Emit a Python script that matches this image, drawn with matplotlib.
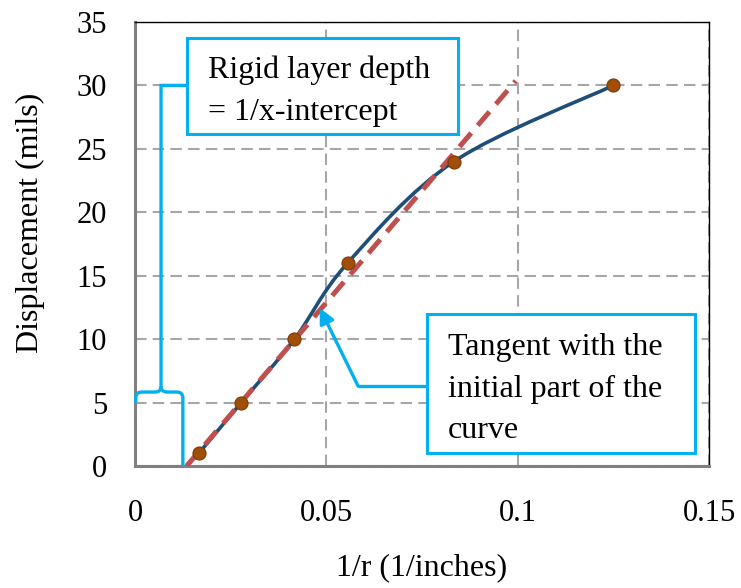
import numpy as np
import matplotlib
matplotlib.use("Agg")
import matplotlib.pyplot as plt
from matplotlib.path import Path
from matplotlib.patches import PathPatch, Rectangle

plt.rcParams['font.family'] = ['Liberation Serif', 'DejaVu Serif']

# ---- data ----
inv_r = [1/60, 1/36, 1/24, 1/18, 1/12, 1/8]
displacement = [1, 5, 10, 16, 24, 30]
tangent_x = [0.0135, 0.0995]
tangent_slope = 353.0
x_ticks = [0, 0.05, 0.1, 0.15]
x_tick_labels = ['0', '0.05', '0.1', '0.15']
y_ticks = [0, 5, 10, 15, 20, 25, 30, 35]

BLUE = '#1F4E79'
RED = '#C0504D'
MARK = '#A04E08'
CYAN = '#00B0F0'
GRID = '#A6A6A6'

fig = plt.figure(figsize=(7.41, 5.88), dpi=100)
ax = fig.add_axes([135/741, 1-466/588, (709-135)/741, (466-22)/588])
ax.set_xlim(0, 0.15)
ax.set_ylim(0, 35)

# Excel-like smoothed curve (Bezier with 1/6 tangents)
P = np.column_stack([inv_r, displacement])
n = len(P)
verts = [tuple(P[0])]
codes = [Path.MOVETO]
for i in range(n - 1):
    p0 = P[i - 1] if i > 0 else P[i]
    p1 = P[i]
    p2 = P[i + 1]
    p3 = P[i + 2] if i + 2 < n else P[i + 1]
    c1 = p1 + (p2 - p0) / 6
    c2 = p2 - (p3 - p1) / 6
    verts += [tuple(c1), tuple(c2), tuple(p2)]
    codes += [Path.CURVE4] * 3
ax.add_patch(PathPatch(Path(verts, codes), fc='none', ec=BLUE, lw=2.6, zorder=3, capstyle='round'))

# tangent
tx = np.array(tangent_x)
ty = tangent_slope * (tx - tangent_x[0])
ax.plot(tx, ty, color=RED, lw=3.6, dashes=(3.6, 2.0), zorder=4)

# points
ax.plot(inv_r, displacement, 'o', color=MARK, mec='#7A3A05', mew=0.8, ms=9.4, zorder=5, ls='none')

# grid / spines
ax.set_xticks(x_ticks)
ax.set_xticklabels(x_tick_labels)
ax.set_yticks(y_ticks)
ax.grid(True, color=GRID, ls=(0, (5.5, 3.0)), lw=1.5)
ax.set_axisbelow(True)
ax.tick_params(length=0, labelsize=22)
ax.tick_params(axis='y', pad=20)
ax.tick_params(axis='x', pad=24)
for s in ['left', 'bottom']:
    ax.spines[s].set_color('#808080')
    ax.spines[s].set_linewidth(2.2)
for s in ['top', 'right']:
    ax.spines[s].set_color('#000000')
    ax.spines[s].set_linewidth(1.0)

ax.set_xlabel('1/r (1/inches)', fontsize=23, labelpad=18)
fig.text(30/741, 1-223/588, 'Displacement (mils)', fontsize=23, rotation=90, ha='center', va='center')

# brace annotation (cyan)
xl, xc, xr = 0.0002, 0.0068, 0.0125
yb = 5.83
rx, ry = 0.0016, 0.45
bverts = [(xl, 5.0), (xl, yb - ry), (xl, yb), (xl + rx, yb), (xc - rx, yb), (xc, yb), (xc, yb + ry),
          (xc, 30.0), (0.0137, 30.0)]
bcodes = [Path.MOVETO, Path.LINETO, Path.CURVE3, Path.CURVE3, Path.LINETO, Path.CURVE3, Path.CURVE3,
          Path.LINETO, Path.LINETO]
ax.add_patch(PathPatch(Path(bverts, bcodes), fc='none', ec=CYAN, lw=2.4, zorder=6, clip_on=False))
bverts2 = [(xc, yb + ry), (xc, yb), (xc + rx, yb), (xr - rx, yb), (xr, yb), (xr, yb - ry), (xr, 0)]
bcodes2 = [Path.MOVETO, Path.CURVE3, Path.CURVE3, Path.LINETO, Path.CURVE3, Path.CURVE3, Path.LINETO]
ax.add_patch(PathPatch(Path(bverts2, bcodes2), fc='none', ec=CYAN, lw=2.4, zorder=6, clip_on=False))

# text box 1
ax.add_patch(Rectangle((0.01359, 26.16), 0.0844 - 0.01359, 33.73 - 26.16, fc='white', ec=CYAN, lw=2.2, zorder=7))
ax.text(0.0191, 30.57, 'Rigid layer depth', fontsize=23, va='baseline', ha='left', zorder=8)
ax.text(0.0191, 27.27, '= 1/x-intercept', fontsize=23, va='baseline', ha='left', zorder=8)

# text box 2
ax.add_patch(Rectangle((0.0763, 1.02), 0.1463 - 0.0763, 11.98 - 1.02, fc='white', ec=CYAN, lw=2.2, zorder=7))
for yy, s in zip([8.75, 5.44, 2.21], ['Tangent with the', 'initial part of the', 'curve']):
    ax.text(0.0818, yy, s, fontsize=23, va='baseline', ha='left', zorder=8)

# arrow
ax.plot([0.0763, 0.0583], [6.30, 6.30], color=CYAN, lw=2.4, zorder=6, solid_capstyle='butt')
ax.annotate('', xy=(0.0483, 12.45), xytext=(0.0583, 6.30),
            arrowprops=dict(arrowstyle='-|>,head_length=0.9,head_width=0.45', color=CYAN, lw=2.4,
                            shrinkA=0, shrinkB=0), zorder=6)

fig.savefig('out.png', dpi=100)
